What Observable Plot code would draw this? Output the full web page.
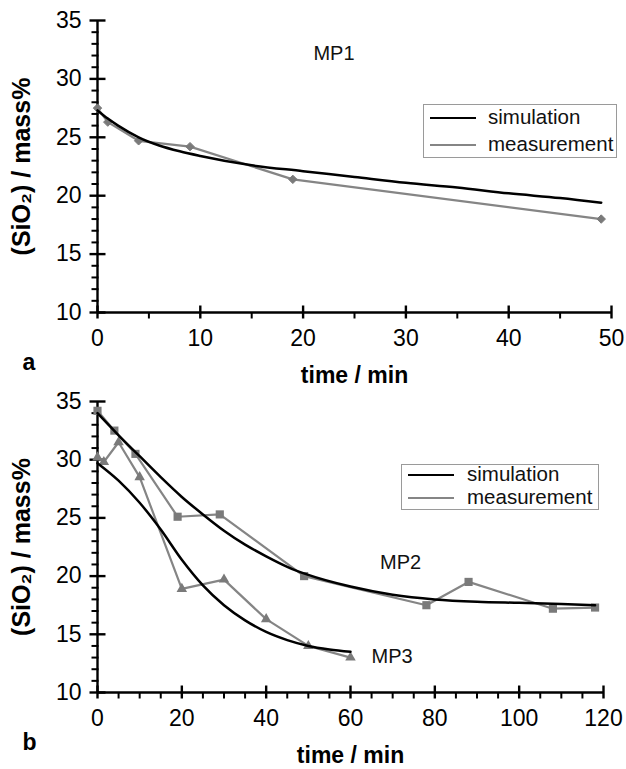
<!DOCTYPE html>
<html>
<head>
<meta charset="utf-8">
<script src="https://cdn.jsdelivr.net/npm/d3@7"></script>
<script src="https://cdn.jsdelivr.net/npm/@observablehq/plot@0.6"></script>
<style>
  body { margin: 0; background: #fff; font-family: "Liberation Sans", Arial, sans-serif; }
  #wrap { position: relative; width: 626px; height: 769px; overflow: hidden; }
  #wrap svg { display: block; }
  .legend { position: absolute; border: 1.5px solid #9a9a9a; background: #fff; font-size: 20.5px; color: #111; }
  .legend .sw { position: absolute; height: 0; }
  .legend .lab { position: absolute; line-height: 1; white-space: nowrap; }
</style>
</head>
<body>
<div id="wrap"></div>
<script>
// ---------- data ----------
// Panel a (MP1)
const timeA_meas = [0, 1, 4, 9, 19, 49];
const sio2A_meas = [27.5, 26.3, 24.7, 24.2, 21.4, 18.0];
const timeA_sim = [0, 1, 2, 4, 6, 8, 10, 15, 20, 25, 30, 35, 40, 45, 49];
const sio2A_sim = [27.3, 26.6, 26.0, 25.0, 24.3, 23.8, 23.4, 22.6, 22.1, 21.6, 21.1, 20.7, 20.2, 19.8, 19.4];

// Panel b (MP2, MP3)
const timeMP2_meas = [0, 4, 9, 19, 29, 49, 78, 88, 108, 118];
const sio2MP2_meas = [34.2, 32.5, 30.5, 25.1, 25.3, 20.0, 17.5, 19.5, 17.2, 17.3];
const timeMP3_meas = [0, 1.5, 5, 10, 20, 30, 40, 50, 60];
const sio2MP3_meas = [30.2, 29.8, 31.5, 28.5, 18.9, 19.7, 16.3, 14.0, 13.0];
const timeMP2_sim = [0, 5, 10, 15, 20, 25, 30, 35, 40, 45, 50, 60, 70, 80, 90, 100, 110, 118];
const sio2MP2_sim = [34.0, 32.1, 30.3, 28.5, 26.8, 25.3, 23.9, 22.7, 21.7, 20.8, 20.1, 19.1, 18.4, 18.0, 17.8, 17.7, 17.6, 17.5];
const timeMP3_sim = [0, 5, 10, 15, 20, 25, 30, 35, 40, 45, 50, 55, 60];
const sio2MP3_sim = [29.7, 28.2, 26.3, 24.0, 21.4, 19.2, 17.5, 16.2, 15.2, 14.5, 14.0, 13.7, 13.5];

// axes / ticks
const yDomain = [10, 35];
const yTicks = [10, 15, 20, 25, 30, 35];
const yMinor = [11, 12, 13, 14, 16, 17, 18, 19, 21, 22, 23, 24, 26, 27, 28, 29, 31, 32, 33, 34];
const xDomainA = [0, 50];
const xTicksA = [0, 10, 20, 30, 40, 50];
const xMinorA = [5, 15, 25, 35, 45];
const xDomainB = [0, 120];
const xTicksB = [0, 20, 40, 60, 80, 100, 120];
const xMinorB = [5, 10, 15, 25, 30, 35, 45, 50, 55, 65, 70, 75, 85, 90, 95, 105, 110, 115];

// labels
const xLabel = "time / min";
const yLabel = "(SiO\u2082) / mass%";
const legendLabels = ["simulation", "measurement"];
const seriesLabelsA = [{t: 21, v: 32.2, text: "MP1"}];
const seriesLabelsB = [{t: 67, v: 21.2, text: "MP2"}, {t: 65, v: 13.1, text: "MP3"}];

// ---------- build ----------
const zip = (ts, vs) => ts.map((t, i) => ({t, v: vs[i]}));
const FONT = "Liberation Sans, Arial, Helvetica, sans-serif";
const SIM = "#000";
const MEAS = "#858585";
const MARK = "#7a7a7a";
const AX = "#000";

// tick glyphs (stroked symbols placed at scale positions)
const vTick = (up, down) => ({draw(ctx) { ctx.moveTo(0, -up); ctx.lineTo(0, down); }});
const hTick = (left, right) => ({draw(ctx) { ctx.moveTo(-left, 0); ctx.lineTo(right, 0); }});

function axesMarks(xDomain, xTicks, xMinor, panelLetter) {
  const x0 = xDomain[0], y0 = yDomain[0];
  return [
    Plot.axisX({ticks: xTicks, tickSize: 0, tickPadding: 17, label: null, fontSize: 23, tickFormat: d => String(d)}),
    Plot.axisY({ticks: yTicks, tickSize: 0, tickPadding: 16, label: null, fontSize: 23, tickFormat: d => String(d)}),
    Plot.ruleY([y0], {stroke: AX, strokeWidth: 2.4}),
    Plot.ruleX([x0], {stroke: AX, strokeWidth: 2.4}),
    Plot.dot(xTicks, {x: d => d, y: y0, r: 3, symbol: vTick(7, 6), fill: "none", stroke: AX, strokeWidth: 2.4}),
    Plot.dot(xMinor, {x: d => d, y: y0, r: 3, symbol: vTick(0, 6), fill: "none", stroke: AX, strokeWidth: 2}),
    Plot.dot(yTicks, {x: x0, y: d => d, r: 3, symbol: hTick(8, 8), fill: "none", stroke: AX, strokeWidth: 2.4}),
    Plot.dot(yMinor, {x: x0, y: d => d, r: 3, symbol: hTick(6, 1), fill: "none", stroke: AX, strokeWidth: 2}),
    Plot.text([xLabel], {frameAnchor: "bottom", dy: 70, fontSize: 23, fontWeight: "bold", fill: "#000", lineAnchor: "bottom"}),
    Plot.text([yLabel], {frameAnchor: "left", rotate: -90, dx: -76, fontSize: 25, fontWeight: "bold", fill: "#000", textAnchor: "middle", lineAnchor: "middle"}),
    Plot.text([panelLetter], {frameAnchor: "bottom-left", dx: -75, dy: 50, fontSize: 23, fontWeight: "bold", fill: "#000", textAnchor: "start", lineAnchor: "middle"})
  ];
}

const plotA = Plot.plot({
  width: 626, height: 384,
  marginLeft: 97, marginRight: 15, marginTop: 20, marginBottom: 72,
  style: {fontFamily: FONT, background: "white", color: "#000", overflow: "visible"},
  x: {domain: xDomainA},
  y: {domain: yDomain},
  marks: [
    ...axesMarks(xDomainA, xTicksA, xMinorA, "a"),
    Plot.line(zip(timeA_meas, sio2A_meas), {x: "t", y: "v", stroke: MEAS, strokeWidth: 2.2}),
    Plot.dot(zip(timeA_meas, sio2A_meas), {x: "t", y: "v", symbol: "diamond2", r: 3.8, fill: MARK, stroke: MARK, strokeWidth: 1}),
    Plot.line(zip(timeA_sim, sio2A_sim), {x: "t", y: "v", stroke: SIM, strokeWidth: 2.5, curve: "monotone-x"}),
    Plot.text(seriesLabelsA, {x: "t", y: "v", text: "text", fontSize: 20, textAnchor: "start", fill: "#111"})
  ]
});

const plotB = Plot.plot({
  width: 626, height: 385,
  marginLeft: 97, marginRight: 23, marginTop: 17, marginBottom: 77,
  style: {fontFamily: FONT, background: "white", color: "#000", overflow: "visible"},
  x: {domain: xDomainB},
  y: {domain: yDomain},
  marks: [
    ...axesMarks(xDomainB, xTicksB, xMinorB, "b"),
    Plot.line(zip(timeMP2_meas, sio2MP2_meas), {x: "t", y: "v", stroke: MEAS, strokeWidth: 2.2}),
    Plot.line(zip(timeMP3_meas, sio2MP3_meas), {x: "t", y: "v", stroke: MEAS, strokeWidth: 2.2}),
    Plot.dot(zip(timeMP2_meas, sio2MP2_meas), {x: "t", y: "v", symbol: "square", r: 4.6, fill: MARK, stroke: "none"}),
    Plot.dot(zip(timeMP3_meas, sio2MP3_meas), {x: "t", y: "v", symbol: "triangle", r: 3.9, fill: MARK, stroke: "none"}),
    Plot.line(zip(timeMP2_sim, sio2MP2_sim), {x: "t", y: "v", stroke: SIM, strokeWidth: 2.5, curve: "monotone-x"}),
    Plot.line(zip(timeMP3_sim, sio2MP3_sim), {x: "t", y: "v", stroke: SIM, strokeWidth: 2.5, curve: "monotone-x"}),
    Plot.text(seriesLabelsB, {x: "t", y: "v", text: "text", fontSize: 20, textAnchor: "start", fill: "#111"})
  ]
});

const wrap = document.getElementById("wrap");
wrap.appendChild(plotA);
wrap.appendChild(plotB);

function legend(box) {
  const el = document.createElement("div");
  el.className = "legend";
  Object.assign(el.style, {left: box.left + "px", top: box.top + "px", width: box.w + "px", height: box.h + "px"});
  const colors = [SIM, MEAS];
  const widths = [2.6, 2.2];
  legendLabels.forEach((lab, i) => {
    const y = box.rows[i];
    const sw = document.createElement("div");
    sw.className = "sw";
    Object.assign(sw.style, {left: box.swL + "px", width: box.swW + "px", top: (y - widths[i] / 2) + "px", borderTop: widths[i] + "px solid " + colors[i]});
    el.appendChild(sw);
    const t = document.createElement("div");
    t.className = "lab";
    t.textContent = lab;
    Object.assign(t.style, {left: box.textL + "px", top: (y - 11) + "px"});
    el.appendChild(t);
  });
  wrap.appendChild(el);
}
legend({left: 423, top: 104, w: 192, h: 52, swL: 6, swW: 46, textL: 64, rows: [13, 40]});
legend({left: 401, top: 464, w: 196, h: 44, swL: 6, swW: 46, textL: 65, rows: [10, 33]});
</script>
</body>
</html>
